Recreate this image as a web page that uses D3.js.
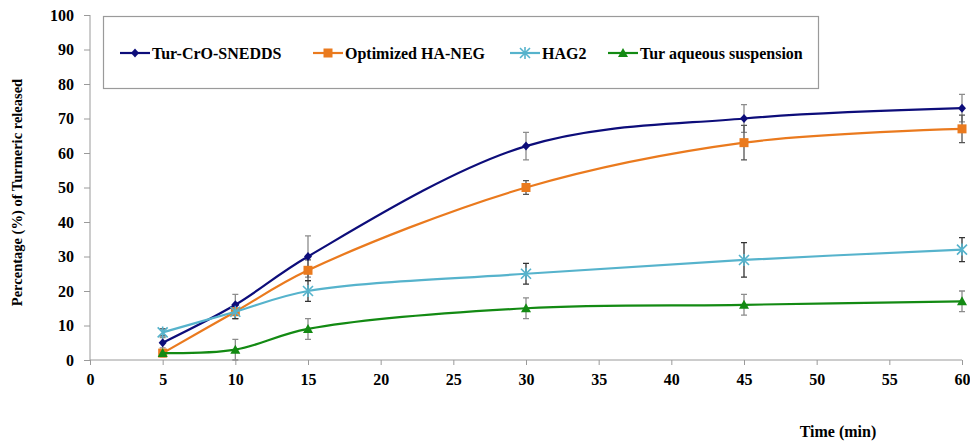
<!DOCTYPE html>
<html>
<head>
<meta charset="utf-8">
<script src="https://cdn.jsdelivr.net/npm/d3@7"></script>
<style>
  html, body { margin: 0; padding: 0; background: #fff; }
  svg text { font-family: "Liberation Serif", "Times New Roman", Tinos, "DejaVu Serif", serif !important; font-weight: bold; fill: #000; }
</style>
</head>
<body>
<svg id="chart" width="970" height="443"></svg>
<script>
// Release time points (min)
const times = [5, 10, 15, 30, 45, 60];

// Cumulative release (%) and standard deviations per formulation
const snedds = [5, 16, 30, 62, 70, 73];
const sneddsErr = [1.5, 3, 6, 4, 4, 4];
const haNeg = [2, 14, 26, 50, 63, 67];
const haNegErr = [1, 2, 3, 2, 5, 4];
const hag2 = [8, 14, 20, 25, 29, 32];
const hag2Err = [1, 2, 3, 3, 5, 3.5];
const aqueous = [2, 3, 9, 15, 16, 17];
const aqueousErr = [0.5, 3, 3, 3, 3, 3];

const seriesNames = ["Tur-CrO-SNEDDS", "Optimized HA-NEG", "HAG2", "Tur aqueous suspension"];
const xTicks = d3.range(0, 61, 5);
const yTicks = d3.range(0, 101, 10);

const series = [
  { name: seriesNames[0], values: snedds, err: sneddsErr, color: "#0d0d7a", errColor: "#8c8c8c", marker: "diamond" },
  { name: seriesNames[1], values: haNeg, err: haNegErr, color: "#ea7a1e", errColor: "#555", marker: "square" },
  { name: seriesNames[2], values: hag2, err: hag2Err, color: "#56b3cc", errColor: "#333", marker: "asterisk" },
  { name: seriesNames[3], values: aqueous, err: aqueousErr, color: "#138a13", errColor: "#8c8c8c", marker: "triangle" }
];

const svg = d3.select("#chart");
const x = d3.scaleLinear().domain([0, 60]).range([90, 962]);
const y = d3.scaleLinear().domain([0, 100]).range([360, 15]);

const serif = "'Liberation Serif', 'Times New Roman', Tinos, 'DejaVu Serif', serif";

// Axes
const yAxis = svg.append("g").attr("transform", `translate(${x(0)},0)`)
  .call(d3.axisLeft(y).tickValues(yTicks).tickSize(6).tickPadding(10));
yAxis.attr("font-family", null);
yAxis.selectAll("path, line").attr("stroke", "#9a9a9a");
yAxis.selectAll("text").style("font-size", "16px").style("font-family", serif);

const xAxis = svg.append("g").attr("transform", `translate(0,${y(0)})`)
  .call(d3.axisBottom(x).tickValues(xTicks).tickSize(5).tickPadding(9));
xAxis.attr("font-family", null);
xAxis.selectAll("path, line").attr("stroke", "#9a9a9a");
xAxis.selectAll("text").style("font-size", "16px").style("font-family", serif);
xAxis.select("path.domain").attr("d", `M${x(0)},0H${x(60)}`);
yAxis.select("path.domain").attr("d", `M0,${y(100)}V${y(0)}`);

// Axis titles
svg.append("text")
  .attr("transform", `translate(22,${(y(0) + y(100)) / 2 + 5}) rotate(-90)`)
  .attr("text-anchor", "middle")
  .style("font-size", "14.5px").style("font-family", serif)
  .text("Percentage (%) of Turmeric released");
svg.append("text")
  .attr("x", 838).attr("y", 437)
  .attr("text-anchor", "middle")
  .style("font-size", "16px").style("font-family", serif)
  .text("Time (min)");

// Marker drawing helper
function drawMarker(g, type, color) {
  if (type === "diamond") {
    g.append("path").attr("d", "M0,-4.5L4,0L0,4.5L-4,0Z").attr("fill", color);
  } else if (type === "square") {
    g.append("rect").attr("x", -4.5).attr("y", -4.5).attr("width", 9).attr("height", 9).attr("fill", color);
  } else if (type === "triangle") {
    g.append("path").attr("d", "M0,-5L5,4L-5,4Z").attr("fill", color);
  } else if (type === "asterisk") {
    const r = 5;
    g.append("path")
      .attr("d", `M${-r},${-r}L${r},${r}M${-r},${r}L${r},${-r}M0,${-r - 1}V${r + 1}`)
      .attr("stroke", color).attr("stroke-width", 1.6).attr("fill", "none");
  }
}

const line = d3.line()
  .x((d, i) => x(times[i]))
  .y(d => y(d))
  .curve(d3.curveCatmullRom.alpha(0.5));

// Error bars first, lines and markers on top
series.forEach(s => {
  const eg = svg.append("g").attr("class", "errors");
  s.values.forEach((v, i) => {
    const cx = x(times[i]);
    const top = y(v + s.err[i]);
    const bot = y(v - s.err[i]);
    eg.append("path")
      .attr("d", `M${cx},${top}V${bot}M${cx - 3},${top}H${cx + 3}M${cx - 3},${bot}H${cx + 3}`)
      .attr("stroke", s.errColor).attr("stroke-width", 1.3).attr("fill", "none");
  });
});

series.forEach(s => {
  svg.append("path")
    .datum(s.values)
    .attr("d", line)
    .attr("fill", "none")
    .attr("stroke", s.color)
    .attr("stroke-width", 2.2);
  s.values.forEach((v, i) => {
    const g = svg.append("g").attr("transform", `translate(${x(times[i])},${y(v)})`);
    drawMarker(g, s.marker, s.color);
  });
});

// Legend
const legend = svg.append("g");
legend.append("rect")
  .attr("x", 103.5).attr("y", 16.5).attr("width", 715).attr("height", 72)
  .attr("fill", "#fff").attr("stroke", "#9a9a9a").attr("stroke-width", 1.2);

const legendX = [120, 313, 510, 608];
series.forEach((s, i) => {
  const g = legend.append("g").attr("transform", `translate(${legendX[i]},53)`);
  g.append("line").attr("x1", 0).attr("x2", 30).attr("y1", 0).attr("y2", 0)
    .attr("stroke", s.color).attr("stroke-width", 2.2);
  const m = g.append("g").attr("transform", "translate(15,0)");
  drawMarker(m, s.marker, s.color);
  g.append("text").attr("x", 32).attr("y", 5.5)
    .style("font-size", "16px").style("font-family", serif)
    .text(s.name);
});
</script>
</body>
</html>
